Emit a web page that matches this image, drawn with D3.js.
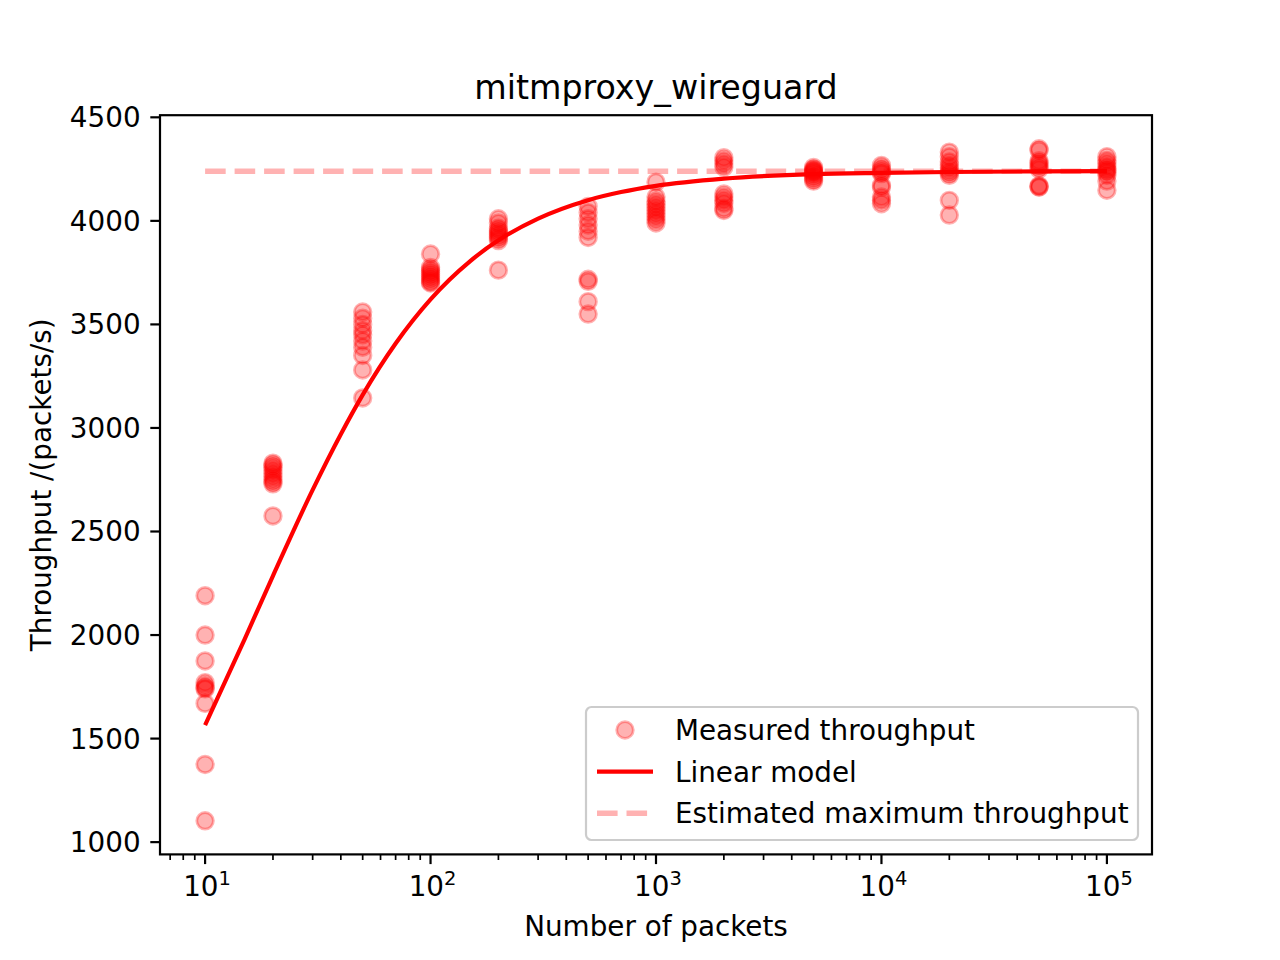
<!DOCTYPE html>
<html>
<head>
<meta charset="utf-8">
<script src="https://cdn.jsdelivr.net/npm/d3@7"></script>
<style>
  body { margin: 0; background: #fff; }
  text { font-family: "DejaVu Sans", sans-serif; fill: #000; }
</style>
</head>
<body>
<div class="chart-area"></div>
<script>
// packet counts used for each benchmark run group
var packetCounts = [10, 20, 50, 100, 200, 500, 1000, 2000, 5000, 10000, 20000, 50000, 100000];

// measured throughput (packets/s), one list per packet count
var throughputRuns = [
    [2190, 2000, 1875, 1770, 1755, 1745, 1740, 1670, 1375, 1103],
    [2830, 2820, 2810, 2795, 2780, 2765, 2750, 2740, 2730, 2575],
    [3560, 3530, 3500, 3470, 3450, 3420, 3390, 3350, 3280, 3145],
    [3840, 3775, 3765, 3755, 3745, 3735, 3725, 3715, 3705, 3700],
    [4010, 3990, 3965, 3955, 3945, 3935, 3925, 3915, 3905, 3762],
    [4070, 4040, 4010, 3980, 3950, 3920, 3718, 3708, 3610, 3550],
    [4187, 4115, 4095, 4080, 4065, 4050, 4035, 4020, 4005, 3990],
    [4305, 4290, 4275, 4260, 4130, 4115, 4100, 4085, 4060, 4050],
    [4258, 4250, 4245, 4240, 4235, 4230, 4220, 4210, 4200, 4192],
    [4268, 4255, 4245, 4235, 4228, 4172, 4163, 4115, 4100, 4083],
    [4332, 4310, 4285, 4268, 4255, 4240, 4230, 4220, 4099, 4028],
    [4348, 4340, 4290, 4280, 4270, 4260, 4250, 4170, 4165, 4163],
    [4310, 4292, 4278, 4262, 4250, 4243, 4235, 4220, 4192, 4148]
];

// fitted model curve
var modelPackets = [10, 15, 20, 30, 40, 50, 70, 100, 150, 200, 300, 500, 700, 1000, 2000, 5000, 10000, 20000, 50000, 100000];
var modelThroughput = [1565, 1982, 2286, 2701, 2970, 3160, 3408, 3621, 3806, 3906, 4011, 4100, 4139, 4169, 4204, 4226, 4232, 4236, 4239, 4240];

var maxThroughput = 4240;

var yTicks = [1000, 1500, 2000, 2500, 3000, 3500, 4000, 4500];
var xTicks = [10, 100, 1000, 10000, 100000];
var xTickExp = ["1", "2", "3", "4", "5"];

var legendLabels = ["Measured throughput", "Linear model", "Estimated maximum throughput"];

var W = 1280, H = 960;
var plotLeft = 160, plotTop = 115.2, plotW = 992, plotH = 739.2;
var fs = 27.8;

var svg = d3.select(".chart-area")
    .append("svg")
    .attr("width", W)
    .attr("height", H);

// flatten points
var points = [];
packetCounts.forEach(function(n, i) {
    throughputRuns[i].forEach(function(t) { points.push({ n: n, t: t }); });
});

// matplotlib style 5% margins (log-x: in decades)
var lx = d3.extent(packetCounts).map(Math.log10);
var padX = (lx[1] - lx[0]) * 0.05;
var x = d3.scaleLog()
    .domain([Math.pow(10, lx[0] - padX), Math.pow(10, lx[1] + padX)])
    .range([plotLeft, plotLeft + plotW]);

var ty = d3.extent(points, function(d) { return d.t; });
var padY = (ty[1] - ty[0]) * 0.05;
var y = d3.scaleLinear()
    .domain([ty[0] - padY, ty[1] + padY])
    .range([plotTop + plotH, plotTop]);

var g = svg.append("g");

// scatter
g.selectAll("circle.pt")
    .data(points)
    .enter().append("circle")
    .attr("class", "pt")
    .attr("cx", function(d) { return x(d.n); })
    .attr("cy", function(d) { return y(d.t); })
    .attr("r", 8.3)
    .attr("fill", "red")
    .attr("fill-opacity", 0.3)
    .attr("stroke", "red")
    .attr("stroke-opacity", 0.3)
    .attr("stroke-width", 2.8);

// max throughput dashed line
g.append("line")
    .attr("x1", x(packetCounts[0]))
    .attr("x2", x(packetCounts[packetCounts.length - 1]))
    .attr("y1", y(maxThroughput))
    .attr("y2", y(maxThroughput))
    .attr("stroke", "red")
    .attr("stroke-opacity", 0.3)
    .attr("stroke-width", 5.56)
    .attr("stroke-dasharray", "20.6,8.9");

// model curve
var line = d3.line()
    .x(function(d) { return x(d[0]); })
    .y(function(d) { return y(d[1]); })
    .curve(d3.curveMonotoneX);

g.append("path")
    .attr("d", line(d3.zip(modelPackets, modelThroughput)))
    .attr("fill", "none")
    .attr("stroke", "red")
    .attr("stroke-width", 4.17);

// axes
var axes = svg.append("g");

var minor = [];
for (var k = 0; k <= 5; k++) {
    for (var m = 2; m <= 9; m++) {
        var v = m * Math.pow(10, k);
        if (v >= x.domain()[0] && v <= x.domain()[1]) minor.push(v);
    }
}

axes.selectAll("line.xminor")
    .data(minor)
    .enter().append("line")
    .attr("x1", function(d) { return x(d); })
    .attr("x2", function(d) { return x(d); })
    .attr("y1", plotTop + plotH)
    .attr("y2", plotTop + plotH + 5.6)
    .attr("stroke", "#000")
    .attr("stroke-width", 1.7);

axes.selectAll("line.xmajor")
    .data(xTicks)
    .enter().append("line")
    .attr("x1", function(d) { return x(d); })
    .attr("x2", function(d) { return x(d); })
    .attr("y1", plotTop + plotH)
    .attr("y2", plotTop + plotH + 9.7)
    .attr("stroke", "#000")
    .attr("stroke-width", 2.2);

var xl = axes.selectAll("text.xlab")
    .data(xTicks)
    .enter().append("text")
    .attr("x", function(d) { return x(d) + 2; })
    .attr("y", 896)
    .attr("text-anchor", "middle")
    .style("font-size", fs + "px");
xl.append("tspan").text("10");
xl.append("tspan")
    .attr("dy", -11)
    .style("font-size", "19.5px")
    .text(function(d, i) { return xTickExp[i]; });

axes.selectAll("line.ytick")
    .data(yTicks)
    .enter().append("line")
    .attr("x1", plotLeft - 9.7)
    .attr("x2", plotLeft)
    .attr("y1", function(d) { return y(d); })
    .attr("y2", function(d) { return y(d); })
    .attr("stroke", "#000")
    .attr("stroke-width", 2.2);

axes.selectAll("text.ylab")
    .data(yTicks)
    .enter().append("text")
    .attr("x", plotLeft - 19.4)
    .attr("y", function(d) { return y(d) + 10; })
    .attr("text-anchor", "end")
    .style("font-size", fs + "px")
    .text(function(d) { return d; });

axes.append("rect")
    .attr("x", plotLeft)
    .attr("y", plotTop)
    .attr("width", plotW)
    .attr("height", plotH)
    .attr("fill", "none")
    .attr("stroke", "#000")
    .attr("stroke-width", 2.2);

// labels
svg.append("text")
    .attr("x", plotLeft + plotW / 2)
    .attr("y", 98.5)
    .attr("text-anchor", "middle")
    .style("font-size", "33.3px")
    .text("mitmproxy_wireguard");

svg.append("text")
    .attr("x", plotLeft + plotW / 2)
    .attr("y", 936)
    .attr("text-anchor", "middle")
    .style("font-size", fs + "px")
    .text("Number of packets");

svg.append("text")
    .attr("transform", "translate(51," + (plotTop + plotH / 2) + ") rotate(-90)")
    .attr("text-anchor", "middle")
    .style("font-size", fs + "px")
    .text("Throughput /(packets/s)");

// legend
var leg = svg.append("g");
leg.append("rect")
    .attr("x", 586)
    .attr("y", 707)
    .attr("width", 552)
    .attr("height", 133)
    .attr("rx", 5.5)
    .attr("fill", "#fff")
    .attr("fill-opacity", 0.8)
    .attr("stroke", "#cccccc")
    .attr("stroke-width", 2.2);

var rowY = [730, 771.7, 813.3];

leg.append("circle")
    .attr("cx", 625)
    .attr("cy", rowY[0])
    .attr("r", 8.3)
    .attr("fill", "red")
    .attr("fill-opacity", 0.3)
    .attr("stroke", "red")
    .attr("stroke-opacity", 0.3)
    .attr("stroke-width", 2.8);

leg.append("line")
    .attr("x1", 597).attr("x2", 653)
    .attr("y1", rowY[1]).attr("y2", rowY[1])
    .attr("stroke", "red")
    .attr("stroke-width", 4.17);

leg.append("line")
    .attr("x1", 597).attr("x2", 653)
    .attr("y1", rowY[2]).attr("y2", rowY[2])
    .attr("stroke", "red")
    .attr("stroke-opacity", 0.3)
    .attr("stroke-width", 5.56)
    .attr("stroke-dasharray", "20.6,8.9");

leg.selectAll("text")
    .data(legendLabels)
    .enter().append("text")
    .attr("x", 675)
    .attr("y", function(d, i) { return rowY[i] + 10; })
    .style("font-size", fs + "px")
    .text(function(d) { return d; });
</script>
</body>
</html>
